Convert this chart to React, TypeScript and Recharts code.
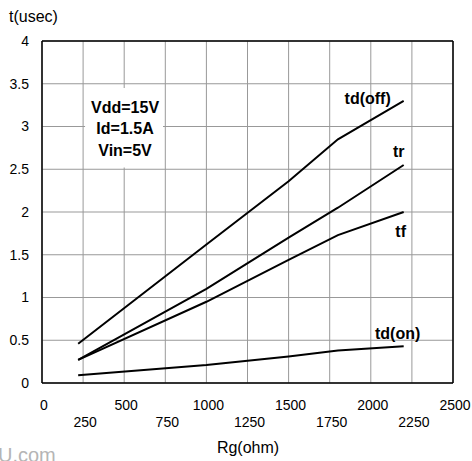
import React from 'react';
import { LineChart, Line, XAxis, YAxis, CartesianGrid, ReferenceLine, ReferenceArea, LabelList } from 'recharts';

const rg = [220, 1000, 1500, 1800, 2200];
const tdOff = [0.46, 1.62, 2.36, 2.85, 3.3];
const tr = [0.27, 1.1, 1.7, 2.05, 2.55];
const tf = [0.27, 0.95, 1.44, 1.73, 2.0];
const tdOn = [0.09, 0.21, 0.31, 0.38, 0.43];
const xTicks = [0, 250, 500, 750, 1000, 1250, 1500, 1750, 2000, 2250, 2500];
const yTicks = [0, 0.5, 1, 1.5, 2, 2.5, 3, 3.5, 4];
const conditions = ['Vdd=15V', 'Id=1.5A', 'Vin=5V'];

const data = rg.map((r, i) => ({ rg: r, tdOff: tdOff[i], tr: tr[i], tf: tf[i], tdOn: tdOn[i] }));

const FONT = '"Liberation Sans", Arial, sans-serif';

const XTick = (props: any) => {
  const { x, y, payload } = props;
  const idx = Math.round(payload.value / 250);
  const dy = idx % 2 === 0 ? 27 : 44;
  return (
    <text x={x + 2} y={y + dy} textAnchor="middle" fontSize={14} fontFamily={FONT} fill="#000">
      {payload.value}
    </text>
  );
};

const endLabel = (text: string, dx: number, dy: number) => (props: any) => {
  const { x, y, index } = props;
  if (index !== rg.length - 1) return null;
  return (
    <text x={x + dx} y={y + dy} textAnchor="middle" fontSize={16} fontWeight="bold" fontFamily={FONT} fill="#000">
      {text}
    </text>
  );
};

const lineOffsets = [-14.5, 6.5, 28.5];

const BoxLabel = (props: any) => {
  const vb = props.viewBox;
  const cx = vb.x + vb.width / 2 + 1;
  const cy = vb.y + vb.height / 2;
  return (
    <g>
      {conditions.map((c, i) => (
        <text key={c} x={cx} y={cy + lineOffsets[i]} textAnchor="middle" fontSize={16} fontWeight="bold" fontFamily={FONT} fill="#000">
          {c}
        </text>
      ))}
    </g>
  );
};

export default function App() {
  return (
    <div style={{ position: 'absolute', left: 0, top: 0, width: 472, height: 461, background: '#fff', fontFamily: FONT, overflow: 'hidden' }}>
      <LineChart width={472} height={461} data={data} margin={{ top: 41, right: 19, bottom: 0, left: 0 }}>
        <CartesianGrid stroke="#999" strokeWidth={1} />
        <XAxis
          type="number"
          dataKey="rg"
          domain={[0, 2500]}
          ticks={xTicks}
          interval={0}
          tickLine={false}
          tickSize={0}
          tickMargin={0}
          height={78}
          axisLine={{ stroke: '#000', strokeWidth: 1.5 }}
          tick={<XTick />}
        />
        <YAxis
          type="number"
          domain={[0, 4]}
          ticks={yTicks}
          interval={0}
          width={42}
          tickLine={false}
          tickSize={0}
          tickMargin={13}
          axisLine={{ stroke: '#000', strokeWidth: 1.5 }}
          tick={{ fontSize: 14, fill: '#000', fontFamily: FONT }}
        />
        <ReferenceLine y={4} stroke="#000" strokeWidth={1.5} />
        <ReferenceLine x={2500} stroke="#000" strokeWidth={1.5} />
        <ReferenceArea x1={262} x2={736} y1={2.52} y2={3.45} fill="#fff" fillOpacity={1} stroke="none" label={<BoxLabel />} />
        <Line dataKey="tdOff" stroke="#000" strokeWidth={2} dot={false} isAnimationActive={false}>
          <LabelList content={endLabel('td(off)', -36, 3)} />
        </Line>
        <Line dataKey="tr" stroke="#000" strokeWidth={2} dot={false} isAnimationActive={false}>
          <LabelList content={endLabel('tr', -5, -8)} />
        </Line>
        <Line dataKey="tf" stroke="#000" strokeWidth={2} dot={false} isAnimationActive={false}>
          <LabelList content={endLabel('tf', -3, 25)} />
        </Line>
        <Line dataKey="tdOn" stroke="#000" strokeWidth={2} dot={false} isAnimationActive={false}>
          <LabelList content={endLabel('td(on)', -6, -7)} />
        </Line>
      </LineChart>
      <div style={{ position: 'absolute', left: 9, top: 8, fontSize: 16, color: '#000' }}>t(usec)</div>
      <div style={{ position: 'absolute', left: 0, width: 472, paddingLeft: 24, textAlign: 'center', top: 439, fontSize: 16, color: '#000', boxSizing: 'border-box' }}>Rg(ohm)</div>
      <div style={{ position: 'absolute', left: -2, top: 444, fontSize: 20, color: '#b5b5b5', whiteSpace: 'nowrap' }}>U.com</div>
    </div>
  );
}
